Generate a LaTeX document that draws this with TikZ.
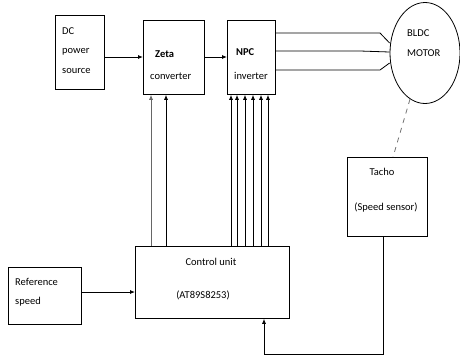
\documentclass[tikz,border=0pt]{standalone}
\usepackage{fontspec}
\setmainfont{Carlito}
\usetikzlibrary{arrows.meta,shapes.geometric}
\begin{document}
\begin{tikzpicture}[x=1pt,y=-1pt,
  box/.style={draw,line width=0.8pt,inner sep=0pt,anchor=north west},
  lbl/.style={inner sep=0pt,font=\fontsize{10.5}{12}\selectfont},
  arr/.style={line width=0.8pt,-{Latex[length=5pt,width=4pt]}},
  wire/.style={line width=0.8pt},
  garr/.style={arr,draw=black!60}]
\useasboundingbox (0,0) rectangle (460,360);
% boxes
\node[box,minimum width=49pt,minimum height=74pt] (dc) at (55,15) {};
\node[box,minimum width=61pt,minimum height=74pt] (zeta) at (143,20) {};
\node[box,minimum width=48pt,minimum height=74pt] (npc) at (227,20) {};
\node[draw,ellipse,line width=0.8pt,inner sep=0pt,minimum width=70pt,minimum height=101pt] (motor) at (425,53) {};
\node[box,minimum width=80pt,minimum height=79pt] (tacho) at (347,157) {};
\node[box,minimum width=154pt,minimum height=72pt] (cu) at (135,246) {};
\node[box,minimum width=73pt,minimum height=57pt] (ref) at (8,267) {};
% texts
\node[lbl,anchor=west] (t1) at (62,31) {DC};
\node[lbl,anchor=west] (t2) at (62,52) {power};
\node[lbl,anchor=west] (t3) at (62,71) {source};
\node[lbl,anchor=west] (t4) at (155,54) {\textbf{Zeta}};
\node[lbl,anchor=west] (t5) at (150,76) {converter};
\node[lbl,anchor=west] (t6) at (236,52) {\textbf{NPC}};
\node[lbl,anchor=west] (t7) at (234,76) {inverter};
\node[lbl,anchor=west] (t8) at (407,33) {BLDC};
\node[lbl,anchor=west] (t9) at (407,53) {MOTOR};
\node[lbl] (t10) at (382,172) {Tacho};
\node[lbl] (t11) at (386,207) {(Speed sensor)};
\node[lbl] (t12) at (211,262) {Control unit};
\node[lbl] (t13) at (203,295) {(AT89S8253)};
\node[lbl,anchor=west] (t14) at (15,282) {Reference};
\node[lbl,anchor=west] (t15) at (15,302) {speed};
% horizontal arrows
\draw[arr] (dc.east |- 0,57) -- (zeta.west |- 0,57);
\draw[arr] (zeta.east |- 0,57) -- (npc.west |- 0,57);
\draw[arr] (ref.east |- 0,292) -- (cu.west |- 0,292);
% inverter to motor
\coordinate (m1) at (380,33);
\coordinate (m2) at (360,51);
\coordinate (m3) at (380,70);
\draw[wire] (npc.east |- m1) -- (m1) -- (motor.west |- 0,43);
\draw[wire] (npc.east |- m2) -- (m2) -- (motor.west |- 0,52);
\draw[wire] (npc.east |- m3) -- (m3) -- (motor.west |- 0,63);
% control arrows to zeta
\draw[garr] ([xshift=8pt]zeta.south west |- cu.north) -- ([xshift=8pt]zeta.south west);
\draw[arr] ([xshift=23pt]zeta.south west |- cu.north) -- ([xshift=23pt]zeta.south west);
% control arrows to npc
\foreach \dx in {4,10,18,26,34,41}
  \draw[arr] ([xshift=\dx pt]npc.south west |- cu.north) -- ([xshift=\dx pt]npc.south west);
% dashed link
\draw[line width=0.8pt,draw=black!55,dash pattern=on 5pt off 5pt] (motor.-108) -- ([xshift=46pt]tacho.north west);
% feedback
\coordinate (fb) at (264,354);
\draw[arr] ([xshift=36pt]tacho.south west) |- (fb) -- ([xshift=129pt]cu.south west);
\end{tikzpicture}
\end{document}
